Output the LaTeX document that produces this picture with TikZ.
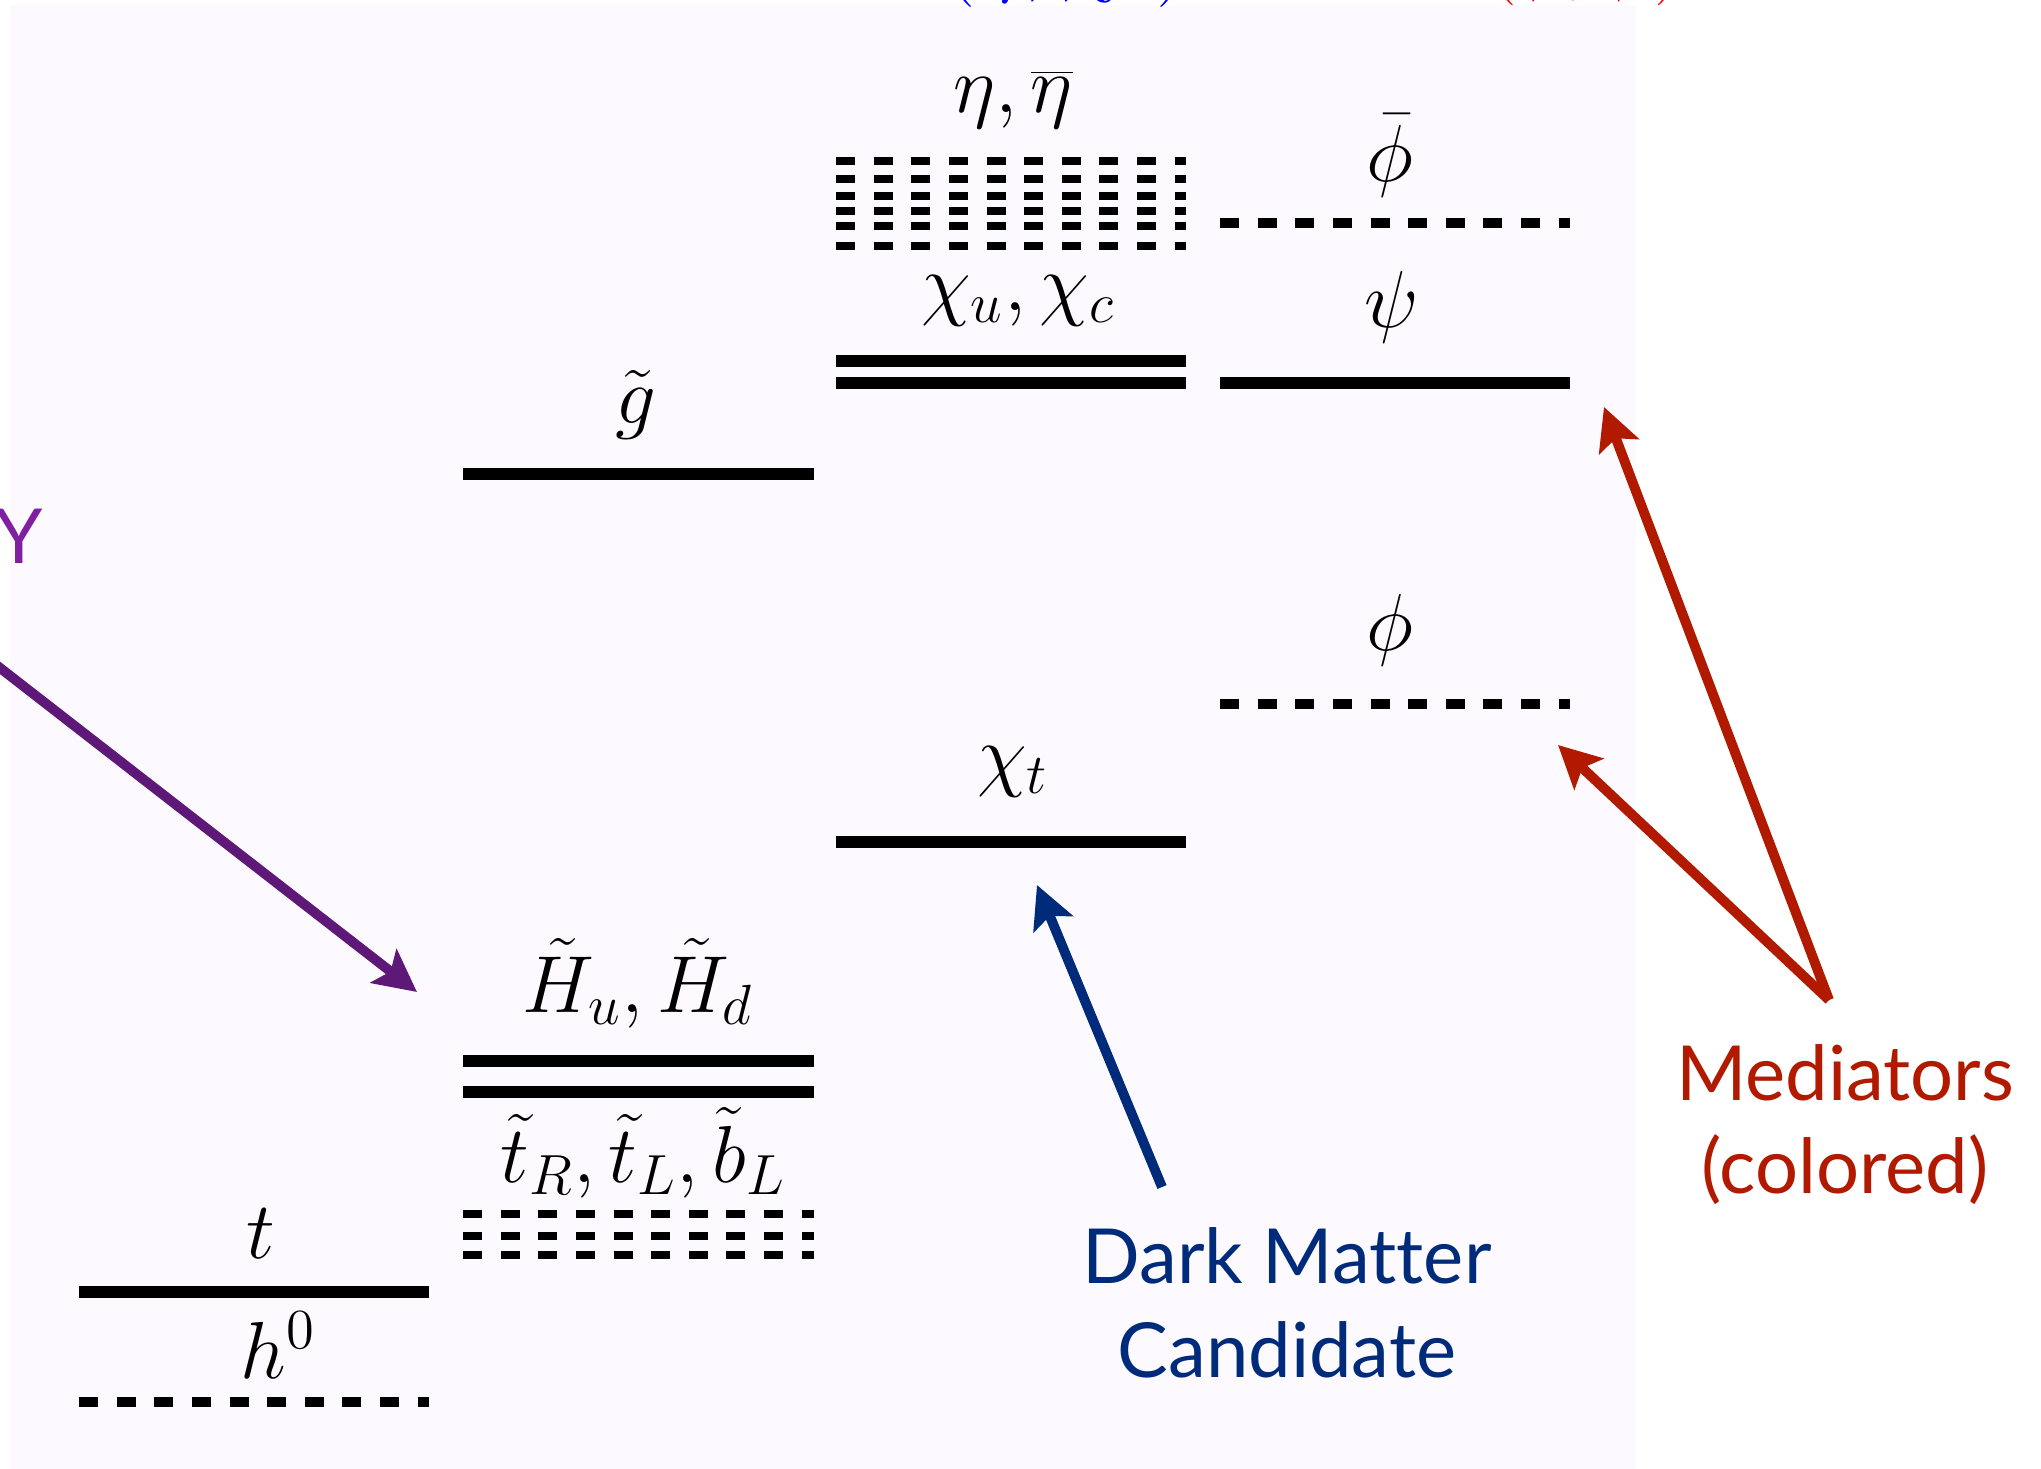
\RequirePackage{fix-cm}
\documentclass[tikz,border=0pt]{standalone}
\usepackage{fontspec}
\newfontfamily\labelfont[Ligatures=NoCommon]{Lato}
\usetikzlibrary{arrows.meta}
\definecolor{panel}{RGB}{252,250,255}
\definecolor{dmblue}{RGB}{0,42,122}
\definecolor{medred}{RGB}{178,26,0}
\definecolor{susypurple}{RGB}{94,24,120}
\definecolor{susylight}{RGB}{128,32,160}

\begin{document}
\begin{tikzpicture}[x=0.01cm,y=-0.01cm,
  level/.style={line width=3.4pt},
  dlevel/.style={line width=2.9pt, dash pattern=on 5.4pt off 5.3pt},
  slevel/.style={line width=2.5pt, dash pattern=on 5.4pt off 5.3pt},
  mlabel/.style={anchor=base, inner sep=0pt, font=\fontsize{23}{28}\selectfont},
  tlabel/.style={anchor=base, inner sep=0pt, font=\labelfont\fontsize{21.6}{26}\selectfont},
  pointer/.style={line width=2.8pt, -{Stealth[length=12pt,width=12pt,inset=2.5pt]}}]

% canvas and panel
\useasboundingbox (0,0) rectangle (2041,1469);
\fill[white] (0,0) rectangle (2041,1469);
\fill[panel] (10,5) rectangle (1636,1469);

% column headings (their lower edge runs along the top of the page)
\node[mlabel, text=blue, font=\fontsize{26}{30}\selectfont] (headF) at (1066,-16) {$(\eta,\chi_u)$};
\node[mlabel, text=red] (headM) at (1586,-15) {$(\phi,\psi)$};

% Standard Model column
\draw[level]  (79,1292) -- (429,1292);
\draw[dlevel] (79,1402) -- (429,1402);
\node[mlabel] (tlab) at (261,1258) {$t$};
\node[mlabel] (hlab) at (278,1378) {$h^0$};

% superpartners
\draw[level] (463,474) -- (814,474);
\node[mlabel] (glab) at (636,423) {$\tilde g$};
\draw[level] (463,1061) -- (814,1061);
\draw[level] (463,1092) -- (814,1092);
\node[mlabel] (Hlab) at (638,1012) {$\tilde H_u,\tilde H_d$};
\foreach \yy in {1214,1236,1255}
  \draw[slevel] (463,\yy) -- (814,\yy);
\node[mlabel] (stlab) at (643,1182) {$\tilde t_R,\tilde t_L,\tilde b_L$};

% dark sector fermions
\foreach \yy in {161,179,196,211,226,246}
  \draw[slevel] (836,\yy) -- (1186,\yy);
\node[mlabel] (etalab) at (1013,112) {$\eta,\overline{\eta}$};
\draw[level] (836,361) -- (1186,361);
\draw[level] (836,383) -- (1186,383);
\node[mlabel] (chilab) at (1018,310) {$\chi_u,\chi_c$};
\draw[level] (836,842) -- (1186,842);
\node[mlabel] (chitlab) at (1013,781) {$\chi_t$};

% mediators
\draw[dlevel] (1220,223) -- (1570,223);
\node[mlabel] (phiblab) at (1390,181) {$\bar\phi$};
\draw[level] (1220,383) -- (1570,383);
\node[mlabel] (psilab) at (1392,327) {$\psi$};
\draw[dlevel] (1220,704) -- (1570,704);
\node[mlabel] (philab) at (1390,650) {$\phi$};

% annotations
\node[tlabel, anchor=base east, text=susylight] (ylab) at (44,563) {Y};
\node[tlabel, text=dmblue] (dmA) at (1287,1283) {Dark Matter};
\node[tlabel, text=dmblue] (dmB) at (1287,1377) {Candidate};
\node[tlabel, text=medred] (medA) at (1845,1100) {Mediators};
\node[tlabel, text=medred] (medB) at (1845,1193) {(colored)};

% arrows
\coordinate (susyTail) at (-5,664);
\coordinate (susyTip) at (417,992);
\coordinate (dmTail) at (1162,1187);
\coordinate (dmTip) at (1037,885);
\coordinate (medTail) at (1829,1000);
\coordinate (phiTip) at (1558,745);
\coordinate (psiTip) at (1604,407);
\draw[pointer, draw=susypurple, fill=susypurple] (susyTail) -- (susyTip);
\draw[pointer, draw=dmblue, fill=dmblue] (dmTail) -- (dmTip);
\draw[pointer, draw=medred, fill=medred] (medTail) -- (phiTip);
\draw[pointer, draw=medred, fill=medred] (medTail) -- (psiTip);
\end{tikzpicture}
\end{document}
